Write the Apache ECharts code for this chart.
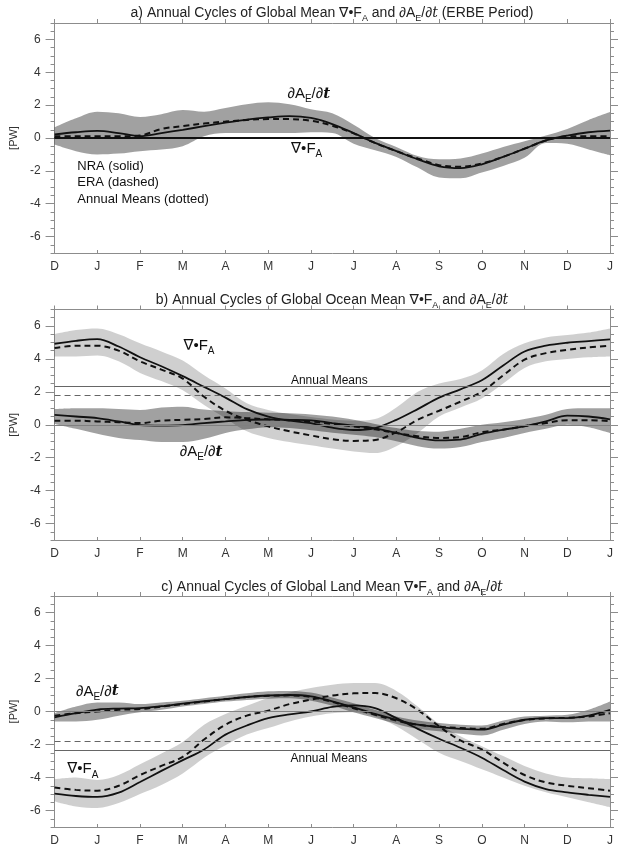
<!DOCTYPE html>
<html>
<head>
<meta charset="utf-8">
<script src="https://cdn.jsdelivr.net/npm/echarts@6/dist/echarts.min.js"></script>
<style>
html,body{margin:0;padding:0;background:#fff;}
#chart{width:620px;height:848px;}
</style>
</head>
<body>
<div id="chart"></div>
<script>
// month labels, D .. J (index 0..13)
var months = ['D','J','F','M','A','M','J','J','A','S','O','N','D','J'];
var yTicks = [-6,-4,-2,0,2,4,6];
// sample positions, half-month steps
var tt = [0,0.5,1,1.5,2,2.5,3,3.5,4,4.5,5,5.5,6,6.5,7,7.5,8,8.5,9,9.5,10,10.5,11,11.5,12,12.5,13];

// a) global mean
var aDaNra = [0.22,0.35,0.43,0.3,0.12,0.3,0.5,0.72,0.93,1.12,1.25,1.33,1.22,0.85,0.3,-0.3,-0.8,-1.3,-1.72,-1.83,-1.6,-1.15,-0.65,-0.15,0.15,0.35,0.45];
var aDaEra = [0.1,0.1,0.1,0.1,0.15,0.55,0.72,0.88,1.0,1.1,1.15,1.15,1.05,0.75,0.28,-0.3,-0.8,-1.25,-1.65,-1.75,-1.55,-1.15,-0.65,-0.15,0.1,0.1,0.1];
var aDaUp = [0.65,1.2,1.6,1.5,1.28,1.45,1.7,1.6,1.82,2.05,2.17,2.05,1.75,1.5,0.8,0.0,-0.55,-1.1,-1.3,-1.25,-0.95,-0.55,-0.2,0.15,0.55,1.1,1.58];
var aDaLo = [-0.4,-0.8,-1.0,-0.95,-0.8,-0.7,-0.5,0.1,0.3,0.3,0.3,0.3,0.35,0.3,-0.35,-0.75,-1.15,-1.8,-2.4,-2.45,-2.1,-1.7,-1.2,-0.3,-0.35,-0.7,-1.05];
var aDfNra = [0,0,0,0,0,0,0,0,0,0,0,0,0,0,0,0,0,0,0,0,0,0,0,0,0,0,0];
var aDfEra = [0,0,0,0,0,0,0,0,0,0,0,0,0,0,0,0,0,0,0,0,0,0,0,0,0,0,0];

// b) ocean mean
var bDfNra = [4.92,5.1,5.2,4.75,4.1,3.55,2.95,2.3,1.65,0.95,0.5,0.25,0.1,-0.18,-0.32,-0.2,0.3,0.95,1.65,2.15,2.7,3.6,4.45,4.8,4.98,5.08,5.18];
var bDfEra = [4.66,4.8,4.8,4.5,3.85,3.35,2.8,1.7,0.85,0.3,-0.1,-0.4,-0.65,-0.88,-0.98,-0.92,-0.45,0.3,0.85,1.4,2.0,3.0,3.95,4.35,4.55,4.7,4.8];
var bDfUp = [5.5,5.75,5.85,5.5,4.95,4.45,3.9,3.0,2.2,1.3,0.9,0.65,0.47,0.32,0.25,0.35,1.05,2.0,2.5,2.78,3.3,4.3,4.95,5.3,5.45,5.6,5.85];
var bDfLo = [4.15,4.15,4.2,3.85,3.15,2.65,2.1,1.2,0.4,-0.4,-0.8,-1.05,-1.25,-1.45,-1.62,-1.72,-1.3,-0.5,0.5,1.05,1.6,2.5,3.45,3.85,4.0,4.1,4.15];
var bDaNra = [0.6,0.5,0.4,0.2,-0.02,-0.05,-0.02,0.1,0.2,0.3,0.32,0.3,0.27,0.1,-0.05,-0.22,-0.5,-0.8,-0.95,-0.9,-0.55,-0.3,-0.1,0.2,0.55,0.5,0.33];
var bDaEra = [0.25,0.25,0.2,0.15,0.1,0.25,0.3,0.35,0.45,0.4,0.33,0.27,0.2,0.05,-0.1,-0.28,-0.5,-0.7,-0.8,-0.75,-0.45,-0.3,-0.08,0.1,0.28,0.28,0.22];
var bDaUp = [0.95,1.0,1.0,0.95,0.9,1.05,1.1,0.92,0.82,0.77,0.73,0.7,0.63,0.5,0.3,0.05,-0.2,-0.38,-0.42,-0.25,0.0,0.15,0.35,0.6,0.95,1.0,1.0];
var bDaLo = [0.05,-0.25,-0.55,-0.8,-0.93,-1.05,-1.05,-0.85,-0.5,-0.28,-0.15,-0.2,-0.33,-0.48,-0.6,-0.75,-1.0,-1.3,-1.45,-1.35,-1.05,-0.8,-0.5,-0.25,0.0,-0.15,-0.5];

// c) land mean
var cDfNra = [-4.98,-5.12,-5.18,-4.92,-4.27,-3.6,-2.95,-2.3,-1.4,-0.85,-0.4,-0.17,0.0,0.28,0.37,0.2,-0.4,-1.05,-1.65,-2.2,-2.8,-3.55,-4.25,-4.7,-4.9,-5.05,-5.18];
var cDfEra = [-4.61,-4.75,-4.8,-4.5,-3.85,-3.3,-2.75,-1.7,-0.8,-0.25,0.05,0.45,0.72,0.97,1.1,1.12,0.8,0.1,-0.9,-1.75,-2.3,-3.1,-3.85,-4.3,-4.5,-4.65,-4.8];
var cDfUp = [-4.1,-4.0,-4.15,-3.85,-3.2,-2.55,-1.85,-0.8,-0.15,0.35,0.82,1.15,1.42,1.62,1.72,1.72,1.25,0.3,-0.75,-1.5,-2.1,-2.7,-3.3,-3.75,-4.0,-4.05,-4.1];
var cDfLo = [-5.45,-5.75,-5.85,-5.55,-5.0,-4.45,-3.75,-2.8,-2.05,-1.4,-1.0,-0.6,-0.3,-0.1,-0.05,-0.3,-0.9,-1.7,-2.5,-3.0,-3.5,-4.0,-4.5,-4.9,-5.2,-5.5,-5.8];
var cDaNra = [-0.35,-0.1,0.12,0.18,0.2,0.32,0.48,0.62,0.75,0.88,0.97,1.0,0.92,0.62,0.25,-0.15,-0.5,-0.8,-0.95,-1.05,-1.1,-0.8,-0.5,-0.4,-0.4,-0.25,0.1];
var cDaEra = [-0.25,-0.1,0.0,0.1,0.15,0.3,0.45,0.6,0.75,0.88,0.95,0.98,0.88,0.58,0.2,-0.2,-0.55,-0.8,-0.92,-1.0,-1.05,-0.75,-0.52,-0.42,-0.38,-0.3,-0.1];
var cDaUp = [-0.1,0.3,0.55,0.55,0.45,0.55,0.65,0.8,0.95,1.1,1.22,1.25,1.15,0.85,0.5,0.1,-0.3,-0.55,-0.7,-0.8,-0.85,-0.55,-0.3,-0.25,-0.2,0.1,0.6];
var cDaLo = [-0.6,-0.6,-0.5,-0.25,-0.05,0.1,0.3,0.45,0.6,0.7,0.78,0.8,0.65,0.35,-0.05,-0.4,-0.75,-1.05,-1.2,-1.35,-1.45,-1.1,-0.75,-0.6,-0.65,-0.6,-0.6];

// annual means (panels b, c)
var annNra = [2.33, -2.35];
var annEra = [1.8, -1.8];

var FONT = "'Liberation Sans', 'DejaVu Sans', Arial, sans-serif";
var AXIS = '#8c8c8c';
var INK = '#111';
var LIGHT = 'rgba(0,0,0,0.19)';
var DARK = 'rgba(0,0,0,0.37)';
var SMOOTH = 0.35;
var grids = [{top: 23, height: 230}, {top: 309.5, height: 230.5}, {top: 596, height: 231}];

function rich(size) {
  return {
    n: {fontSize: size, lineHeight: size + 6, verticalAlign: 'middle', fontFamily: FONT, color: INK},
    s: {fontSize: Math.round(size * 0.66), lineHeight: Math.round(size * 0.7), verticalAlign: 'bottom', fontFamily: FONT, color: INK},
    it: {fontSize: size, lineHeight: size + 6, verticalAlign: 'middle', fontStyle: 'italic', fontWeight: 'bold', fontFamily: 'DejaVu Serif, serif', color: INK}
  };
}
var DA_TXT = '{n|\u2202A}{s|E}{n|/\u2202}{it|t}';
var DF_TXT = '{n|\u2207\u2022F}{s|A}';

// text annotation placed in month / PW units on the grid's value axis
function note(t, v, text, size, pos) {
  return {
    value: [t, v],
    label: {show: true, position: pos || 'inside', distance: 0, color: INK, opacity: 1,
      textBorderWidth: 0, formatter: function () { return text; }, rich: rich(size)}
  };
}
function notes(gi, list) {
  return {type: 'scatter', xAxisIndex: gi * 2 + 1, yAxisIndex: gi * 4, symbolSize: 1, silent: true,
    itemStyle: {color: 'rgba(0,0,0,0)', opacity: 1}, data: list, z: 5};
}

function band(gi, up, lo, color, key, extra) {
  var base = {type: 'line', xAxisIndex: gi * 2, yAxisIndex: gi * 4, stack: key, stackStrategy: 'all',
    symbol: 'none', smooth: SMOOTH, silent: true, lineStyle: {width: 0, opacity: 0}};
  var s1 = Object.assign({}, base, {data: lo.slice()}, extra || {});
  var s2 = Object.assign({}, base, {data: up.map(function (u, i) { return u - lo[i]; }),
    areaStyle: {color: color, opacity: 1}});
  return [s1, s2];
}

function line(gi, vals, dashed) {
  return {type: 'line', xAxisIndex: gi * 2, yAxisIndex: gi * 4, data: vals.slice(),
    symbol: 'none', smooth: SMOOTH, silent: true,
    lineStyle: {color: INK, width: dashed ? 2 : 1.8, type: dashed ? [6, 4] : 'solid'}};
}

function hlines(nra, era) {
  return {silent: true, symbol: ['none', 'none'], label: {show: false}, data: [
    {yAxis: 0, lineStyle: {color: '#808080', width: 1, type: 'solid'}},
    {yAxis: nra, lineStyle: {color: '#666', width: 1, type: 'solid'}},
    {yAxis: era, lineStyle: {color: '#666', width: 1, type: [6, 4]}}
  ]};
}

var option = {
  animation: false,
  backgroundColor: '#fff',
  textStyle: {fontFamily: FONT},
  grid: [], xAxis: [], yAxis: [], series: [],
  graphic: []
};

grids.forEach(function (g, gi) {
  option.grid.push({left: 53.5, right: 10, top: g.top, height: g.height});
  // bottom: half-month categories, labelled at each month
  option.xAxis.push({type: 'category', gridIndex: gi, position: 'bottom', data: tt, boundaryGap: false,
    axisLine: {onZero: false, lineStyle: {color: AXIS}},
    axisTick: {inside: true, length: 3, interval: 1, lineStyle: {color: AXIS}},
    axisLabel: {interval: 1, margin: 8, fontSize: 12, color: '#333',
      formatter: function (v, i) { return months[i / 2]; }},
    splitLine: {show: false}});
  // top: month scale
  option.xAxis.push({type: 'value', gridIndex: gi, position: 'top', min: 0, max: 13, interval: 1,
    axisLine: {onZero: false, lineStyle: {color: AXIS}},
    axisTick: {length: 4, lineStyle: {color: AXIS}},
    axisLabel: {show: false}, splitLine: {show: false}});
  // left: minor ticks + labels
  option.yAxis.push({type: 'value', gridIndex: gi, position: 'left', min: -7, max: 7, interval: 0.5,
    name: '[PW]', nameLocation: 'middle', nameGap: 25, nameTextStyle: {fontSize: 11, color: '#333'},
    axisLine: {show: true, onZero: false, lineStyle: {color: AXIS}},
    axisTick: {length: 4, lineStyle: {color: AXIS}},
    axisLabel: {customValues: yTicks, margin: 14, fontSize: 12, color: '#333'},
    splitLine: {show: false}});
  // left: major ticks
  option.yAxis.push({type: 'value', gridIndex: gi, position: 'left', min: -7, max: 7,
    axisLine: {show: false}, axisTick: {customValues: yTicks, length: 9, lineStyle: {color: AXIS}},
    axisLabel: {show: false}, splitLine: {show: false}});
  // right: minor ticks
  option.yAxis.push({type: 'value', gridIndex: gi, position: 'right', min: -7, max: 7, interval: 0.5,
    axisLine: {show: true, onZero: false, lineStyle: {color: AXIS}},
    axisTick: {length: 4, lineStyle: {color: AXIS}},
    axisLabel: {show: false}, splitLine: {show: false}});
  // right: major ticks
  option.yAxis.push({type: 'value', gridIndex: gi, position: 'right', min: -7, max: 7,
    axisLine: {show: false}, axisTick: {customValues: yTicks, length: 8, lineStyle: {color: AXIS}},
    axisLabel: {show: false}, splitLine: {show: false}});
});

// panel a
option.series = option.series.concat(
  band(0, aDaUp, aDaLo, DARK, 'a1'),
  [
    line(0, aDfNra, false),
    line(0, aDfEra, true),
    line(0, aDaEra, true),
    line(0, aDaNra, false),
    notes(0, [
      note(5.95, 2.68, DA_TXT, 15),
      note(5.9, -0.68, DF_TXT, 15),
      note(0.52, -1.72, '{n|NRA (solid)}', 13, 'right'),
      note(0.52, -2.73, '{n|ERA (dashed)}', 13, 'right'),
      note(0.52, -3.74, '{n|Annual Means (dotted)}', 13, 'right')
    ])
  ]
);

// panel b
option.series = option.series.concat(
  band(1, bDfUp, bDfLo, LIGHT, 'b1', {markLine: hlines(annNra[0], annEra[0])}),
  band(1, bDaUp, bDaLo, DARK, 'b2'),
  [
    line(1, bDaEra, true),
    line(1, bDaNra, false),
    line(1, bDfEra, true),
    line(1, bDfNra, false),
    notes(1, [
      note(3.38, 4.8, DF_TXT, 15),
      note(3.43, -1.66, DA_TXT, 15),
      note(6.43, 2.68, '{n|Annual Means}', 12)
    ])
  ]
);

// panel c
option.series = option.series.concat(
  band(2, cDfUp, cDfLo, LIGHT, 'c1', {markLine: hlines(annNra[1], annEra[1])}),
  band(2, cDaUp, cDaLo, DARK, 'c2'),
  [
    line(2, cDaEra, true),
    line(2, cDaNra, false),
    line(2, cDfEra, true),
    line(2, cDfNra, false),
    notes(2, [
      note(1.0, 1.22, DA_TXT, 15),
      note(0.66, -3.5, DF_TXT, 15),
      note(6.42, -2.85, '{n|Annual Means}', 12)
    ])
  ]
);

// panel titles
var titleRich = {
  n: {fontSize: 14, lineHeight: 20, verticalAlign: 'middle', fontFamily: FONT, fill: '#222'},
  s: {fontSize: 9, lineHeight: 10, verticalAlign: 'bottom', fontFamily: FONT, fill: '#222'},
  it: {fontSize: 14, lineHeight: 20, verticalAlign: 'middle', fontStyle: 'italic', fontFamily: 'DejaVu Serif, serif', fill: '#222'}
};
var titles = [
  '{n|a) Annual Cycles of Global Mean \u2207\u2022F}{s|A}{n| and \u2202A}{s|E}{n|/\u2202}{it|t}{n| (ERBE Period)}',
  '{n|b) Annual Cycles of Global Ocean Mean \u2207\u2022F}{s|A}{n| and \u2202A}{s|E}{n|/\u2202}{it|t}',
  '{n|c) Annual Cycles of Global Land Mean \u2207\u2022F}{s|A}{n| and \u2202A}{s|E}{n|/\u2202}{it|t}'
];
var titleY = [13, 300, 587];
titles.forEach(function (t, i) {
  option.graphic.push({type: 'text', x: 332, y: titleY[i], silent: true,
    style: {text: t, align: 'center', verticalAlign: 'middle', rich: titleRich,
      fontSize: 14, fontFamily: FONT, fill: '#222'}});
});

var chart = echarts.init(document.getElementById('chart'), null, {renderer: 'canvas'});
chart.setOption(option);
</script>
</body>
</html>
